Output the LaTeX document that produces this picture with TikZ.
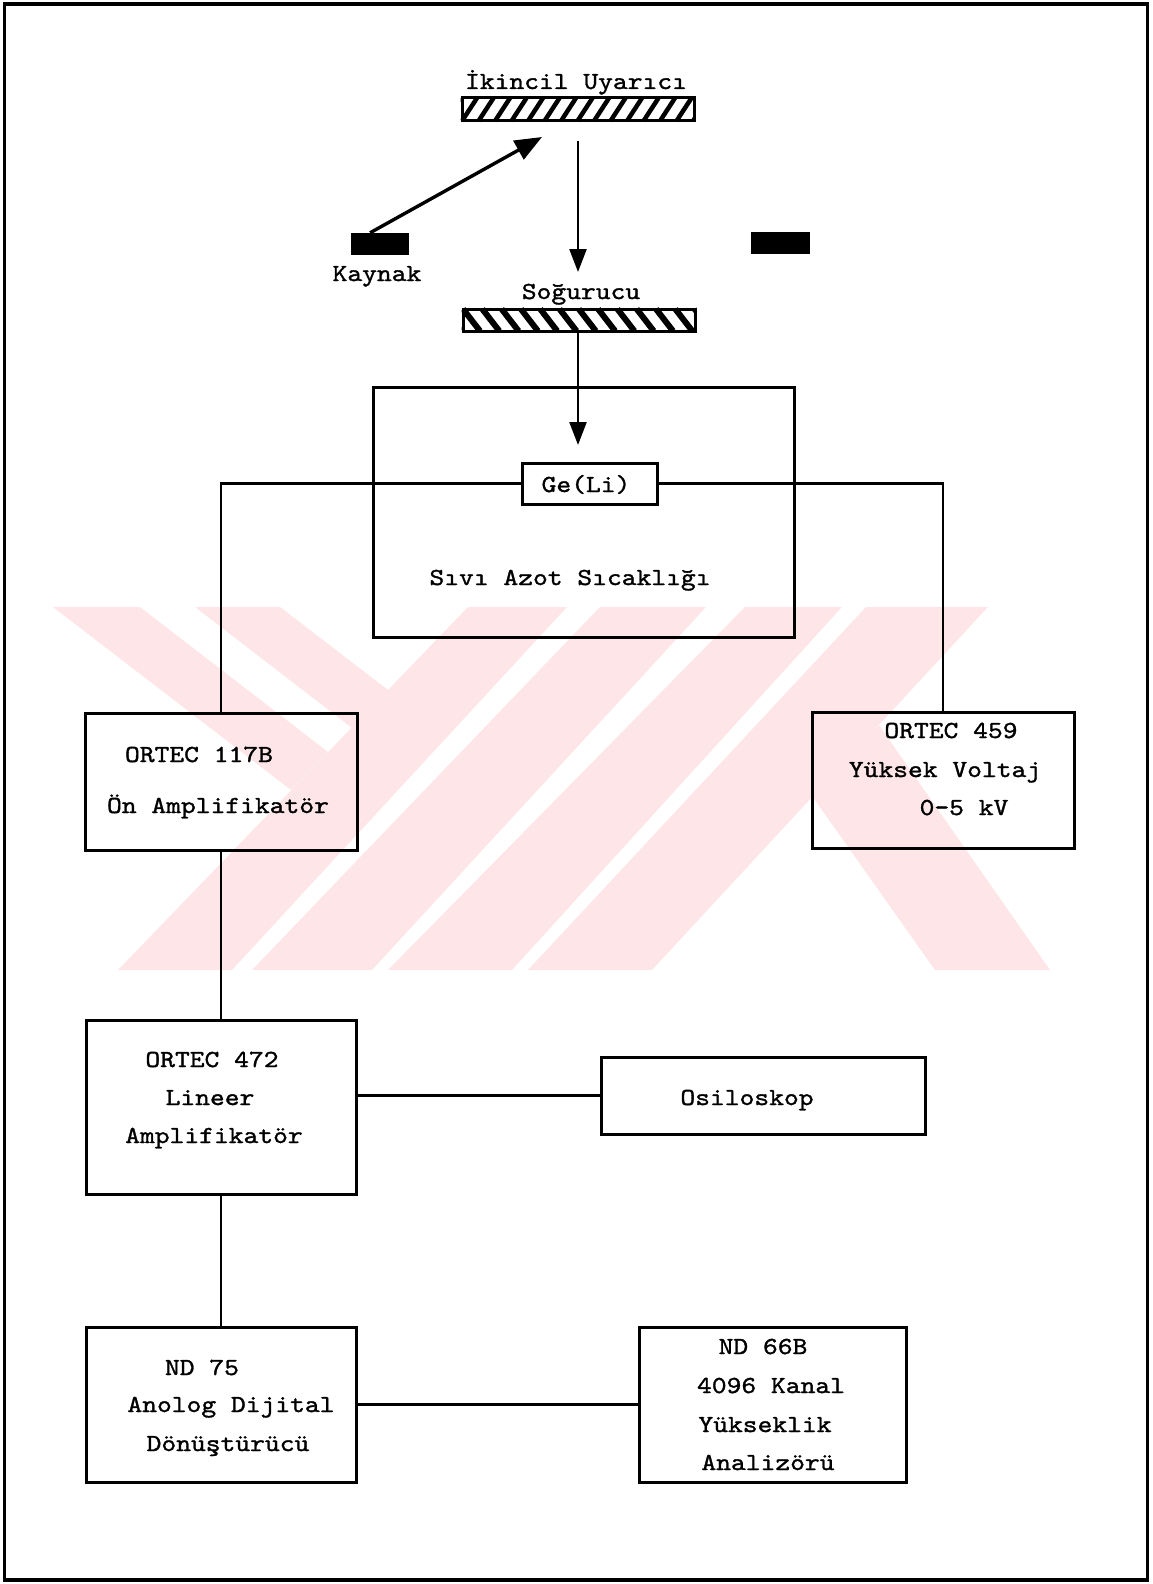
\documentclass[tikz,border=0pt]{standalone}
\usepackage{fontspec}
\newfontfamily\tw{lmmono10-regular.otf}[FakeStretch=1.15,FakeBold=1.3]
\usetikzlibrary{arrows.meta,calc}
\definecolor{wm}{RGB}{253,229,232}
\begin{document}
\begin{tikzpicture}[x=1pt,y=-1pt,
  font=\tw\fontsize{24.5}{29}\selectfont,
  box/.style={draw, line width=3pt, inner sep=0pt},
  blk/.style={fill=black, inner sep=0pt},
  wire/.style={line width=2.4pt},
  lbl/.style={anchor=base, inner sep=0pt},
  tipA/.style={-{Triangle[length=27pt,width=21pt]}},
  tipB/.style={-{Triangle[length=23pt,width=17pt]}}]
\useasboundingbox (0,0) rectangle (1153,1584);
% watermark
\fill[wm] (53,607) -- (140,607) -- (328,752) -- (291,790) -- cycle;
\fill[wm] (195,607) -- (280,607) -- (388,690) -- (352,728) -- cycle;
\fill[wm] (118,970) -- (232,970) -- (567,607) -- (468,607) -- cycle;
\fill[wm] (252,970) -- (372,970) -- (706,607) -- (600,607) -- cycle;
\fill[wm] (388,970) -- (512,970) -- (842,607) -- (745,607) -- cycle;
\fill[wm] (528,970) -- (652,970) -- (988,607) -- (866,607) -- cycle;
\fill[wm] (812,796) -- (878.8,725) -- (1050,970) -- (935,970) -- cycle;
% frame
\node[draw, line width=3.5pt, minimum width=1143pt, minimum height=1576pt, inner sep=0pt] (frame) at (576,792) {};
% hatched bars
\node[box, minimum width=232pt, minimum height=23pt] (uy) at (578,109.5) {};
\begin{scope}
\clip (uy.south west) rectangle (uy.north east);
\foreach \i in {-1,...,14} \draw[line width=4.5pt] ({462+\i*16.5},121) -- ++(15,-23);
\end{scope}
\node[box, minimum width=232pt, minimum height=22pt] (sog) at (579,320) {};
\begin{scope}
\clip (sog.south west) rectangle (sog.north east);
\foreach \i in {-1,...,12} \draw[line width=6pt] ({463+\i*19.3},309) -- ++(17,22);
\end{scope}
\node[lbl] (uyl) at (576,89) {İkincil Uyarıcı};
\node[lbl] (sogl) at (581,299) {Soğurucu};
% source blocks
\node[blk, minimum width=58pt, minimum height=22pt] (kay) at (380,244) {};
\node[blk, minimum width=59pt, minimum height=22pt] (rblk) at (780.5,243) {};
\node[lbl] (kayl) at (377,281) {Kaynak};
% arrows
\coordinate (tip0) at (542,137);
\coordinate (tip1) at (578,272);
\coordinate (tip2) at (578,445);
\draw[line width=3.4pt, tipA] ($(kay.north west)!0.33!(kay.north east)$) -- (tip0);
\draw[wire, tipB] ([yshift=-18pt]uy.south -| tip1) -- (tip1);
\draw[wire, tipB] (sog.south -| tip2) -- (tip2);
% cryostat
\node[box, minimum width=421pt, minimum height=250pt] (cryo) at (583.5,512) {};
\node[box, minimum width=135pt, minimum height=41pt] (ge) at (589.5,483.5) {};
\node[lbl] (gel) at (586,492) {Ge(Li)};
\node[lbl] (cryol) at (570,585) {Sıvı Azot Sıcaklığı};
% boxes
\node[box, minimum width=272pt, minimum height=137pt] (pre) at (221,781.5) {};
\node[lbl] at (199,762) (pre1) {ORTEC 117B};
\node[lbl] at (218,813) (pre2) {Ön Amplifikatör};
\node[box, minimum width=262pt, minimum height=136pt] (hv) at (943,780) {};
\node[lbl] at (951,738) (hv1) {ORTEC 459};
\node[lbl] at (945,777) (hv2) {Yüksek Voltaj};
\node[lbl] at (964,815) (hv3) {0-5 kV};
\node[box, minimum width=270pt, minimum height=174pt] (amp) at (221,1107) {};
\node[lbl] at (212,1067) (amp1) {ORTEC 472};
\node[lbl] at (210,1105) (amp2) {Lineer};
\node[lbl] at (214,1143) (amp3) {Amplifikatör};
\node[box, minimum width=324pt, minimum height=77pt] (osc) at (763,1095.5) {};
\node[lbl] at (747,1105) (oscl) {Osiloskop};
\node[box, minimum width=270pt, minimum height=155pt] (adc) at (221,1404.5) {};
\node[lbl] at (202,1375) (adc1) {ND 75};
\node[lbl] at (231,1412) (adc2) {Anolog Dijital};
\node[lbl] at (228,1451) (adc3) {Dönüştürücü};
\node[box, minimum width=267pt, minimum height=155pt] (mca) at (772.5,1404.5) {};
\node[lbl] at (763,1354) (mca1) {ND 66B};
\node[lbl] at (771,1393) (mca2) {4096 Kanal};
\node[lbl] at (765,1432) (mca3) {Yükseklik};
\node[lbl] at (768,1470) (mca4) {Analizörü};
% connectors
\draw[wire] (ge.west) -- (ge.west -| pre.north) -- (pre.north);
\draw[wire] (ge.east) -- (ge.east -| hv.north) -- (hv.north);
\draw[wire] (pre.south) -- (amp.north);
\draw[wire] (amp.south) -- (adc.north);
\draw[wire] (amp.east |- osc.west) -- (osc.west);
\draw[wire] (adc.east) -- (adc.east -| mca.west);
\end{tikzpicture}
\end{document}
